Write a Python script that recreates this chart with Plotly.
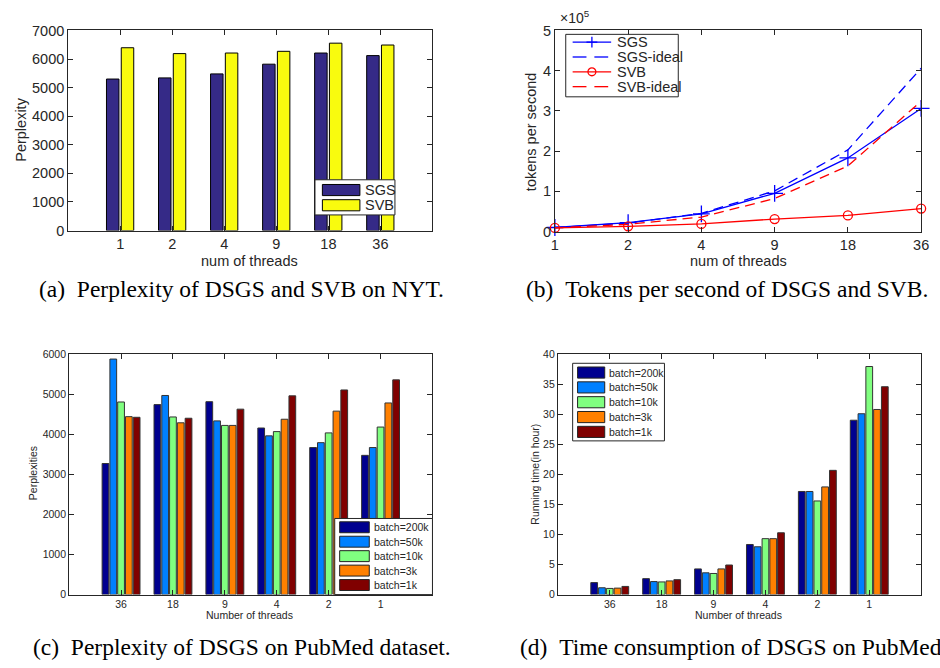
import plotly.graph_objects as go

W, H = 940, 668
SANS = "Arial, Liberation Sans, sans-serif"
SERIF = "Times New Roman, Liberation Serif, serif"
INK = "#262626"

# ---------------- data ----------------
# (a) perplexity on NYT
threads_a = ["1", "2", "4", "9", "18", "36"]
ab_names = ["SGS", "SVB"]
sgs_perp = [5300, 5340, 5480, 5820, 6210, 6120]
svb_perp = [6395, 6190, 6210, 6270, 6555, 6490]

# (b) tokens per second
threads_b = ["1", "2", "4", "9", "18", "36"]
line_names = ["SGS", "SGS-ideal", "SVB", "SVB-ideal"]
sgs_tps = [0.10e5, 0.22e5, 0.44e5, 0.95e5, 1.83e5, 3.06e5]
sgs_ideal_tps = [0.10e5, 0.21e5, 0.45e5, 1.01e5, 2.03e5, 4.06e5]
svb_tps = [0.09e5, 0.13e5, 0.19e5, 0.31e5, 0.40e5, 0.57e5]
svb_ideal_tps = [0.09e5, 0.18e5, 0.36e5, 0.82e5, 1.63e5, 3.24e5]
b_yticks = [0, 1e5, 2e5, 3e5, 4e5, 5e5]
b_yticktext = ["0", "1", "2", "3", "4", "5"]

# (c) perplexity on PubMed, (d) running time
threads_cd = ["36", "18", "9", "4", "2", "1"]
batch_names = ["batch=200k", "batch=50k", "batch=10k", "batch=3k", "batch=1k"]
perp_200k = [3276, 4748, 4821, 4163, 3675, 3480]
perp_50k = [5886, 4976, 4341, 3967, 3797, 3675]
perp_10k = [4813, 4439, 4228, 4073, 4041, 4187]
perp_3k = [4447, 4293, 4228, 4382, 4585, 4789]
perp_1k = [4431, 4407, 4634, 4967, 5114, 5366]
time_200k = [2.0, 2.66, 4.28, 8.35, 17.18, 29.05]
time_50k = [1.14, 2.17, 3.63, 7.97, 17.18, 30.13]
time_10k = [1.03, 2.11, 3.52, 9.32, 15.6, 38.0]
time_3k = [1.08, 2.28, 4.28, 9.32, 17.94, 30.84]
time_1k = [1.36, 2.49, 4.93, 10.3, 20.7, 34.63]

# ---------------- styles ----------------
ab_colors = ["rgb(53,42,135)", "rgb(249,251,14)"]
line_colors = ["blue", "blue", "red", "red"]
batch_colors = ["rgb(0,0,143)", "rgb(0,128,255)", "rgb(128,255,128)",
                "rgb(255,128,0)", "rgb(128,0,0)"]
DASH = "10px,6px"


def px(x):
    return x / W


def py(y):
    return 1 - y / H


fig = go.Figure()

# (a)
a_w = 0.24
for name, vals, col, off in [(ab_names[0], sgs_perp, ab_colors[0], -0.264),
                             (ab_names[1], svb_perp, ab_colors[1], 0.02)]:
    fig.add_trace(go.Bar(x=threads_a, y=vals, name=name, width=a_w, offset=off,
                         marker=dict(color=col, line=dict(color="black", width=1)),
                         xaxis="x", yaxis="y", showlegend=False))

# (b)
b_series = [sgs_tps, sgs_ideal_tps, svb_tps, svb_ideal_tps]
b_modes = ["lines+markers", "lines", "lines+markers", "lines"]
b_dash = ["solid", DASH, "solid", DASH]
b_markers = [dict(symbol="cross-thin-open", size=12, line=dict(color="blue", width=1.3)),
             None,
             dict(symbol="circle-open", size=9, line=dict(color="red", width=1.3)),
             None]
for i, name in enumerate(line_names):
    fig.add_trace(go.Scatter(x=threads_b, y=b_series[i], name=name, mode=b_modes[i],
                             line=dict(color=line_colors[i], width=1.3, dash=b_dash[i]),
                             marker=b_markers[i], cliponaxis=False,
                             xaxis="x2", yaxis="y2", showlegend=False))

# (c) and (d)
cd_w = 0.13
cd_centers = [-0.3, -0.15, 0.0, 0.15, 0.3]
perp_series = [perp_200k, perp_50k, perp_10k, perp_3k, perp_1k]
time_series = [time_200k, time_50k, time_10k, time_3k, time_1k]
for i, name in enumerate(batch_names):
    fig.add_trace(go.Bar(x=threads_cd, y=perp_series[i], name=name, width=cd_w,
                         offset=cd_centers[i] - cd_w / 2,
                         marker=dict(color=batch_colors[i], line=dict(color="#333", width=1)),
                         xaxis="x3", yaxis="y3", showlegend=False))
for i, name in enumerate(batch_names):
    fig.add_trace(go.Bar(x=threads_cd, y=time_series[i], name=name, width=cd_w,
                         offset=cd_centers[i] - cd_w / 2,
                         marker=dict(color=batch_colors[i], line=dict(color="#333", width=1)),
                         xaxis="x4", yaxis="y4", showlegend=False))


def axis(domain, anchor, fs, **kw):
    d = dict(domain=domain, anchor=anchor, showline=True, linecolor=INK, linewidth=1,
             mirror="ticks", ticks="inside", ticklen=5, tickcolor=INK, showgrid=False,
             zeroline=False, tickfont=dict(family=SANS, size=fs, color=INK), fixedrange=True)
    d.update(kw)
    return d


fig.update_layout(
    width=W, height=H, margin=dict(l=0, r=0, t=0, b=0),
    paper_bgcolor="white", plot_bgcolor="white", barmode="overlay",
    showlegend=False,
    xaxis=axis([px(65), px(434)], "y", 14.5, type="category", range=[-1, 6]),
    yaxis=axis([py(228), py(23)], "x", 14.5, range=[0, 7000], dtick=1000),
    xaxis2=axis([px(558), px(929)], "y2", 14.5, type="category", range=[0, 5]),
    yaxis2=axis([py(229), py(23)], "x2", 14.5, range=[0, 5e5],
                tickvals=b_yticks, ticktext=b_yticktext),
    xaxis3=axis([px(66), px(434)], "y3", 10.5, type="category", range=[-1, 6]),
    yaxis3=axis([py(601), py(355)], "x3", 10.5, range=[0, 6000], dtick=1000),
    xaxis4=axis([px(561), px(929)], "y4", 10.5, type="category", range=[-1, 6]),
    yaxis4=axis([py(601), py(355)], "x4", 10.5, range=[0, 40], dtick=5),
)


def note(text, x, y, size, family=SANS, angle=0, xanchor="center", yanchor="middle"):
    fig.add_annotation(text=text, x=px(x), y=py(y), xref="paper", yref="paper",
                       showarrow=False, textangle=angle, xanchor=xanchor, yanchor=yanchor,
                       font=dict(family=family, size=size,
                                 color=INK if family == SANS else "black"))


def rect(x0, y0, x1, y1, fill, line="black", lw=1):
    fig.add_shape(type="rect", xref="paper", yref="paper",
                  x0=px(x0), x1=px(x1), y0=py(y1), y1=py(y0),
                  fillcolor=fill, line=dict(color=line, width=lw))


def seg(x0, y0, x1, y1, color, dash="solid", lw=1.3):
    fig.add_shape(type="line", xref="paper", yref="paper",
                  x0=px(x0), x1=px(x1), y0=py(y0), y1=py(y1),
                  line=dict(color=color, width=lw, dash=dash))


# ---- legend (a) ----
rect(315, 176, 396, 212, "white", INK)
for i, (name, col) in enumerate(zip(ab_names, ab_colors)):
    yc = 186.5 + i * 15.6
    rect(322.5, yc - 5.7, 360.5, yc + 5.7, col, "black", 1)
    note(name, 364, yc, 14.5, xanchor="left")

# ---- legend (b) ----
rect(569, 27, 683, 91, "white", INK)
for i, name in enumerate(line_names):
    yc = 35 + i * 15.2
    if b_dash[i] == "solid":
        seg(576, yc, 615, yc, line_colors[i])
    else:
        seg(576, yc, 590, yc, line_colors[i])
        seg(598, yc, 612, yc, line_colors[i])
    note(name, 619, yc, 14.5, xanchor="left")
# legend markers
seg(590, 35, 601, 35, "blue")
seg(595.5, 29.5, 595.5, 40.5, "blue")
fig.add_shape(type="circle", xref="paper", yref="paper",
              x0=px(591.5), x1=px(599.5), y0=py(35 + 2 * 15.2 + 4), y1=py(35 + 2 * 15.2 - 4),
              line=dict(color="red", width=1.3), fillcolor="rgba(0,0,0,0)")

# ---- legend (c) ----
rect(335, 523, 434, 601, "white", INK)
for i, (name, col) in enumerate(zip(batch_names, batch_colors)):
    yc = 532 + i * 14.8
    rect(340, yc - 5.6, 370, yc + 5.6, col, "#222", 1)
    note(name, 372.5, yc, 10.5, xanchor="left")

# ---- legend (d) ----
rect(576, 364, 669, 443.5, "white", INK)
for i, (name, col) in enumerate(zip(batch_names, batch_colors)):
    yc = 373.5 + i * 15.2
    rect(581, yc - 5.7, 608.5, yc + 5.7, col, "#222", 1)
    note(name, 611, yc, 10.5, xanchor="left")

# axis titles
note("Perplexity", 17, 125, 14.5, angle=-90)
note("num of threads", 249, 259, 14.5)
note("tokens per second", 534, 127, 14.5, angle=-90)
note("num of threads", 744, 259, 14.5)
note("×10<sup>5</sup>", 561, 21, 14, xanchor="left", yanchor="bottom")
note("Perplexities", 29, 477, 10.5, angle=-90)
note("Number of threads", 249, 622, 10.5)
note("Running time(in hour)", 537, 478, 10.5, angle=-90)
note("Number of threads", 744, 622, 10.5)

# captions
note("(a)\u00a0\u00a0Perplexity of DSGS and SVB on NYT.", 241, 288, 23.5, family=SERIF)
note("(b)\u00a0\u00a0Tokens per second of DSGS and SVB.", 938, 288, 23.5, family=SERIF,
     xanchor="right")
note("(c)\u00a0\u00a0Perplexity of DSGS on PubMed dataset.", 241, 655, 23.5, family=SERIF)
note("(d)\u00a0\u00a0Time consumption of DSGS on PubMed dataset.", 521, 655, 23.5,
     family=SERIF, xanchor="left")

fig.write_html("out.html",
               config={"displayModeBar": False, "staticPlot": True},
               post_script="document.body.style.margin='0';"
                           "document.body.style.overflow='hidden';")
